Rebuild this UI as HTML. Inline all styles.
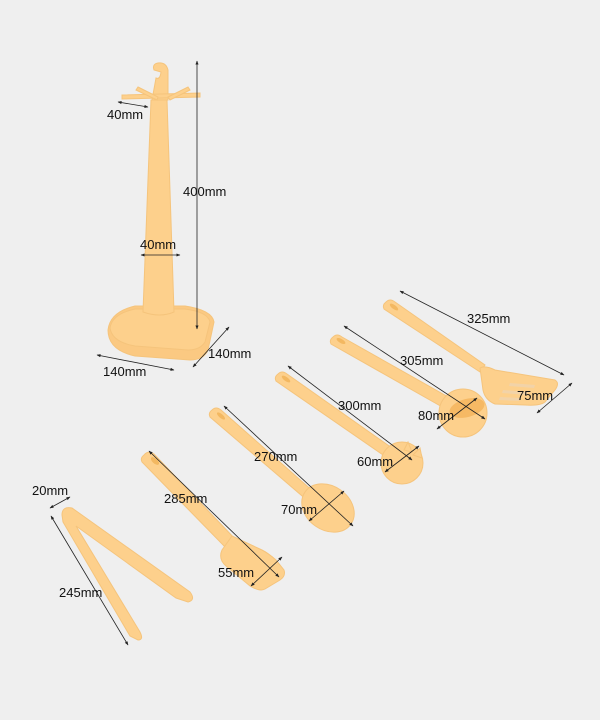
<!DOCTYPE html>
<html><head><meta charset="utf-8"><style>
html,body{margin:0;padding:0;background:#efefef;}
svg{display:block;}
text{font-family:"Liberation Sans",Arial,sans-serif;font-size:13px;fill:#111;}
</style></head><body>
<svg width="600" height="720" viewBox="0 0 600 720" xmlns="http://www.w3.org/2000/svg">
<defs>
<marker id="a" viewBox="0 0 10 10" refX="9" refY="5" markerWidth="5" markerHeight="5" orient="auto-start-reverse"><path d="M0,1 L10,5 L0,9 z" fill="#222"/></marker>
</defs>
<rect width="600" height="720" fill="#efefef"/>
<g fill="#fdd08c" stroke="#f5c47c" stroke-width="1">
<!-- stand -->
<path d="M108,330 Q110,312 135,306 L185,306 Q212,310 214,322 L208,350 Q204,360 190,360 L135,356 Q108,350 108,330 z" fill="#fbc982"/>
<path d="M110,328 Q112,314 135,309 L185,309 Q208,312 210,322 L205,342 Q200,350 188,350 L135,346 Q112,342 110,328 z"/>
<path d="M151,100 L167,100 L174,312 Q160,318 143,312 z"/>
<path d="M154,70 Q152,64 158,63 Q166,62 168,70 L168,100 L152,100 L156,78 Q160,80 161,72 z"/>
<path d="M122,95 L200,93 L200,97 L122,99 z"/>
<path d="M138,87 L158,97 L157,100 L136,90 z"/>
<path d="M168,97 L188,87 L190,90 L170,100 z"/>
<!-- spatula 325 -->
<path d="M386,302 Q390,298 395,302 L485,365 L480,372 L384,309 Q382,305 386,302 z"/>
<path d="M480,368 Q485,365 495,370 L555,380 Q560,383 555,390 L545,402 Q540,406 525,405 L495,404 Q485,400 483,390 z"/>
<!-- ladle 305 -->
<path d="M333,337 Q337,333 342,337 L450,398 L444,408 L331,344 Q329,340 333,337 z"/>
<circle cx="463" cy="413" r="24"/>
<ellipse cx="467" cy="408" rx="18" ry="9" fill="#f6b964" stroke="none" transform="rotate(-15 467 408)"/>
<!-- pasta 300 -->
<path d="M278,374 Q282,370 287,374 L392,448 L386,457 L276,381 Q274,377 278,374 z"/>
<circle cx="402" cy="463" r="21"/>
<path d="M404,450 L408,442 L412,452 z M413,455 L420,448 L422,458 z"/>
<!-- spoon 270 -->
<path d="M212,410 Q216,406 221,410 L315,493 L308,501 L210,417 Q208,413 212,410 z"/>
<ellipse cx="328" cy="508" rx="28" ry="22" transform="rotate(35 328 508)"/>
<!-- spatula 285 -->
<path d="M144,455 Q148,450 154,454 L236,540 L226,548 L142,462 Q140,458 144,455 z"/>
<path d="M232,536 L262,550 Q268,553 276,560 L284,570 Q286,576 280,580 L265,589 Q260,592 250,586 L226,566 Q218,559 222,550 z"/>
<!-- tongs -->
<path d="M62,515 Q62,506 72,508 L190,592 Q196,600 188,602 L176,598 L76,526 L140,632 Q144,640 138,640 L130,636 L63,522 z"/>
</g>
<g fill="#f3b861" stroke="none">
<ellipse cx="394" cy="307" rx="5" ry="2" transform="rotate(36 394 307)"/>
<ellipse cx="341" cy="341" rx="5" ry="2" transform="rotate(30 341 341)"/>
<ellipse cx="286" cy="379" rx="5" ry="2" transform="rotate(36 286 379)"/>
<ellipse cx="221" cy="416" rx="5" ry="2" transform="rotate(40 221 416)"/>
<ellipse cx="155" cy="461" rx="5" ry="2.5" transform="rotate(42 155 461)"/>
<path d="M510,383 L535,385 L534,388 L509,386 z M503,390 L528,392 L527,395 L502,393 z M500,397 L520,398 L519,401 L499,400 z" fill="#f2d3a8"/>
</g>
<g stroke="#222" stroke-width="0.8" fill="none">
<line x1="197" y1="61" x2="197" y2="329" marker-start="url(#a)" marker-end="url(#a)"/>
<line x1="118" y1="102" x2="148" y2="107" marker-start="url(#a)" marker-end="url(#a)"/>
<line x1="141" y1="255" x2="180" y2="255" marker-start="url(#a)" marker-end="url(#a)"/>
<line x1="97" y1="355" x2="174" y2="370" marker-start="url(#a)" marker-end="url(#a)"/>
<line x1="193" y1="367" x2="229" y2="327" marker-start="url(#a)" marker-end="url(#a)"/>
<line x1="400" y1="291" x2="564" y2="375" marker-start="url(#a)" marker-end="url(#a)"/>
<line x1="537" y1="413" x2="572" y2="383" marker-start="url(#a)" marker-end="url(#a)"/>
<line x1="344" y1="326" x2="485" y2="419" marker-start="url(#a)" marker-end="url(#a)"/>
<line x1="437" y1="429" x2="477" y2="398" marker-start="url(#a)" marker-end="url(#a)"/>
<line x1="288" y1="366" x2="412" y2="460" marker-start="url(#a)" marker-end="url(#a)"/>
<line x1="385" y1="472" x2="419" y2="446" marker-start="url(#a)" marker-end="url(#a)"/>
<line x1="224" y1="406" x2="353" y2="526" marker-start="url(#a)" marker-end="url(#a)"/>
<line x1="309" y1="521" x2="344" y2="491" marker-start="url(#a)" marker-end="url(#a)"/>
<line x1="149" y1="451" x2="279" y2="577" marker-start="url(#a)" marker-end="url(#a)"/>
<line x1="251" y1="586" x2="282" y2="557" marker-start="url(#a)" marker-end="url(#a)"/>
<line x1="50" y1="508" x2="70" y2="497" marker-start="url(#a)" marker-end="url(#a)"/>
<line x1="51" y1="516" x2="128" y2="645" marker-start="url(#a)" marker-end="url(#a)"/>
</g>
<g>
<text x="107" y="119">40mm</text>
<text x="183" y="196">400mm</text>
<text x="140" y="249">40mm</text>
<text x="103" y="376">140mm</text>
<text x="208" y="358">140mm</text>
<text x="467" y="323">325mm</text>
<text x="517" y="400">75mm</text>
<text x="400" y="365">305mm</text>
<text x="418" y="420">80mm</text>
<text x="338" y="410">300mm</text>
<text x="357" y="466">60mm</text>
<text x="254" y="461">270mm</text>
<text x="281" y="514">70mm</text>
<text x="164" y="503">285mm</text>
<text x="218" y="577">55mm</text>
<text x="32" y="495">20mm</text>
<text x="59" y="597">245mm</text>
</g>
</svg>
</body></html>
